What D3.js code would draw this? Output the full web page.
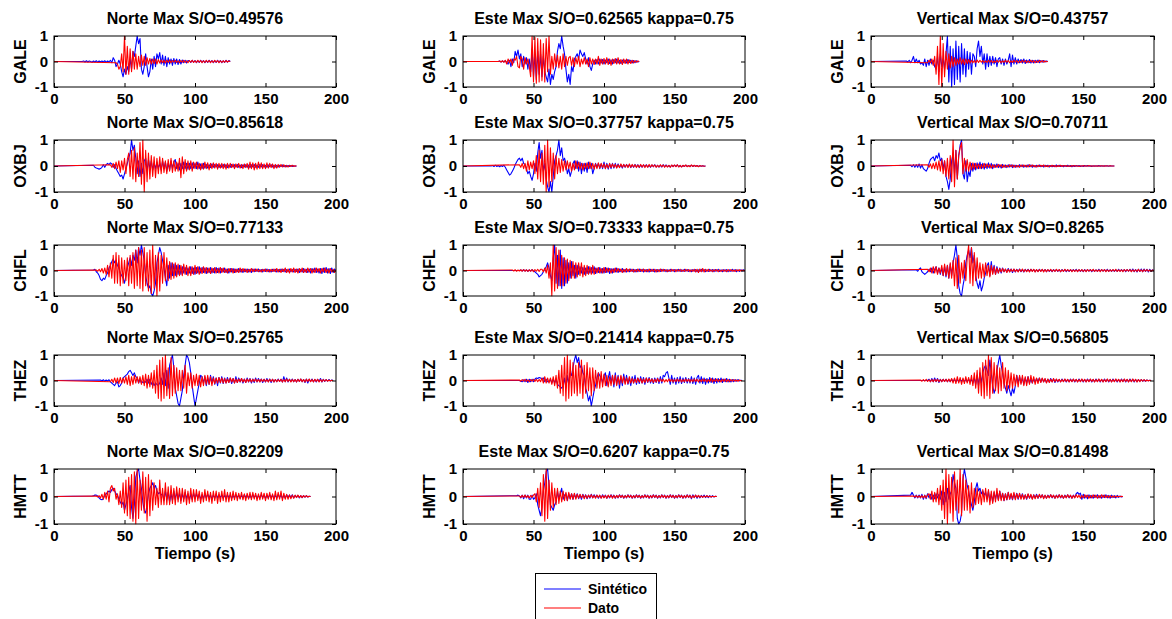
<!DOCTYPE html>
<html><head><meta charset="utf-8">
<script src="https://cdn.jsdelivr.net/npm/d3@7"></script>
<style>
body{margin:0;background:#fff}
svg{display:block}
text{font-family:"Liberation Sans",Arial,sans-serif;font-weight:bold;fill:#000}
</style></head><body>
<svg id="c" width="1172" height="619"></svg>
<script>
// ---------- labels ----------
const stations = ["GALE","OXBJ","CHFL","THEZ","HMTT"];
const components = ["Norte","Este","Vertical"];
const titles = [
 ["Norte Max S/O=0.49576","Este Max S/O=0.62565 kappa=0.75","Vertical Max S/O=0.43757"],
 ["Norte Max S/O=0.85618","Este Max S/O=0.37757 kappa=0.75","Vertical Max S/O=0.70711"],
 ["Norte Max S/O=0.77133","Este Max S/O=0.73333 kappa=0.75","Vertical Max S/O=0.8265"],
 ["Norte Max S/O=0.25765","Este Max S/O=0.21414 kappa=0.75","Vertical Max S/O=0.56805"],
 ["Norte Max S/O=0.82209","Este Max S/O=0.6207 kappa=0.75","Vertical Max S/O=0.81498"]
];
const xTicks = [0,50,100,150,200];
const yTicks = [-1,0,1];
const yTickLabels = ["-1","0","1"];
const xLabel = "Tiempo (s)";
const seriesNames = ["Sintético","Dato"];
const dt = 1; // s between samples

// onset time (s) of each series; row = station, col = component
const onsetSint = [[20,25,25],[28,20,28],[28,40,32],[33,40,40],[27,38,28]];
const onsetDato = [[44,25,40],[40,40,40],[30,35,40],[40,40,35],[30,40,30]];

// ---------- GALE ----------
const galeNorteSint = [0,.02,-.02,.03,-.02,.02,0,-.03,.02,-.02, .03,-.03,.02,-.02,.02,-.02,.03,-.03,.02,-.02, .05,-.05,.15,.05,-.2,-.1,.05,-.1,-.4,-.6, -.3,-.5,-.2,-.4,.1,-.3,.4,.2,.6,1, .7,.9,-.3,-.5,-.2,.3,-.2,-.6,-.4,.1, -.3,.2,-.2,.3,.1,.35,-.1,.25,-.15,.2, -.2,.15,-.1,.1,-.15,.12,-.1,.1,-.12,.08, -.1,.06,-.05,.05,-.06,.04,.03,-.04,.05,-.03, .04,-.05,.03,-.04,.05,-.03,.04,-.05,.03,-.04, .05,-.03,.04,-.05,.03,-.04,.05,-.03,.04,-.05, .03,-.04,.05,-.03,.04,0];
const galeNorteDato = [-.05,-.1,-.3,-.2,.3,-.4, 1,-.5,.6,-.5,.5,-.4,.4,-.3,.3,-.3, .2,-.2,.25,-.15,.2,-.15,.15,-.1,.12,-.1, .1,-.08,.1,-.1,.08,-.06,.06,-.05,.05,-.06, .05,-.04,.06,-.05,.04,-.03,.05,-.04,.03,-.05, .04,-.03,.05,-.04,.03,-.05,.04,-.03,.05,-.04, .03,-.04,.05,-.03,.04,-.05,.03,-.04,.05,-.03, .04,-.05,.03,-.04,.05,-.03,.04,-.05,.03,-.04, .03,-.03,.04,-.02,.02,0];
const galeEsteSint = [0,.02,-.02,.02,-.02,.03,-.03,-.1,.05,-.2, .1,-.05,.4,.2,.45,.1,.3,-.2,.2,-.1, .15,-.3,.1,-.4,.5,-.6,.3,-.7,.4,-.5, .3,-.6,.2,-.4,-.6,-.8,-.3,-.9,-.5,-.7, -.4,-.2,.4,.7,.5,1,.6,.3,-.3,-.8, -.5,-.9,-.2,-.4,.1,.2,.3,.1,.45,.3, .2,.35,.1,-.1,.15,-.2,-.35,-.1,.05,-.1, .08,-.1,.1,-.06,.08,-.1,.06,-.05,.1,-.08, .06,-.1,.08,-.05,.1,-.06,.05,-.08,.06,-.05, .05,-.06,.08,-.04,.05,-.06,.04,-.05,.03,-.02,0];
const galeEsteDato = [0,.02,-.02,.03,-.03,.05,-.1,.1,-.05,.1, -.15,.1,.05,.2,-.2,-.25,.2,.1,-.3,.15, -.1,.1,-.2,-.6,1,-.8,.95,-.85,.9,-.8, .85,-.75,.7,-.8,.9,-.4,1,-.5,.2,-.3, .3,-.2,.25,-.25,.2,-.3,.3,-.2,.2,-.15, .15,.2,-.15,.15,-.2,.15,-.1,.2,-.2,.1, -.1,.15,-.1,.1,-.2,.15,-.1,.1,-.12,.1, -.1,.2,-.15,.1,-.1,.12,-.1,.15,-.12,.1, -.15,.1,-.08,.12,-.1,.15,-.1,.08,-.12,.1, -.08,.1,-.1,.06,-.08,.05,-.06,.04,-.03,.02,0];
const galeVertSint = [.02,-.02,.05,-.05,.05,.2,-.05,.1,-.05,.05, -.1,-.05,-.15,.1,-.2,.05,-.15,.1,-.1,.05, -.2,-.3,.2,-.4,.3,-.2,.1,-.3,.3,1, -.8,.6,-1,.5,-.9,.8,-.7,.6,-.8,.7, -.5,.5,-.6,.4,-.3,.35,-.5,.3,.2,-.2, .5,.8,.2,.6,-.1,.3,-.3,.3,-.2,.2, -.15,.2,-.1,.15,-.2,.1,.15,-.1,.1,-.15, .1,-.1,.05,.3,-.2,.25,-.1,.15,-.1,.1, -.05,.08,-.06,.1,-.08,.06,-.05,.08,-.06,.05, -.06,.05,-.04,.06,-.05,.04,-.03,.04,-.02,.02,0];
const galeVertDato = [-.05,.05,-.05,.1,-.15,.2,-.5,.6,-.9,1, -1,.7,-.6,.4,-.3,.3,-.25,.2,-.2,.15, -.15,.1,-.1,.15,-.1,.1,-.12,.1,-.08,.08, -.06,.05,-.05,.04,-.05,.06,-.04,.05,-.03,.04, -.05,.03,-.04,.05,-.03,.04,-.05,.03,-.04,.05, -.03,.04,-.05,.03,-.04,.05,-.03,.04,-.05,.03, -.04,.05,-.03,.04,-.05,.03,-.04,.05,-.03,.04, -.05,.03,-.04,.05,-.03,.04,-.05,.03,-.04,.05, -.03,.04,-.03,.02,-.01,0];

// ---------- OXBJ ----------
const oxbjNorteSint = [.03,-.05,-.08,-.1,-.12,-.1,-.05,.05,-.05,.05, .1,.05,.12,.08,-.05,.05,-.1,-.2,-.3,-.4, -.35,-.5,-.3,-.1,.1,.3,.5,1,.6,.8, .3,-.3,.2,-.4,.1,-.3,.2,.3,-.2,.25, -.1,.2,-.15,.1,-.1,.15,-.1,.1,-.15,.2, -.1,.15,-.2,.1,-.15,.2,-.1,.15,.25,-.1, .1,-.15,.1,-.1,.15,-.1,.1,-.12,.1,-.1, .12,-.08,.1,-.1,.15,-.1,.08,-.1,.1,-.08, .06,-.08,.05,-.06,.08,-.05,.06,-.04,.05,-.06, .04,-.05,.06,-.04,.05,-.06,.04,-.05,.06,-.04, .05,-.04,.06,-.05,.04,-.06,.05,-.04,.05,-.05, .04,-.06,.05,-.04,.06,-.05,.04,-.05,.06,-.04, .05,-.04,.03,-.05,.04,-.03,.05,-.04,.03,-.04, .03,-.04,.03,-.02,.04,-.03,.02,-.03,.02,-.02, .02,-.02,.01,-.01,0];
const oxbjNorteDato = [.05,-.05,.1,-.1,.15,-.1,.2,-.25,.2,-.15, .3,-.3,.25,.5,-.4,.6,-.5,.7,-.6,.5, -.4,.9,-.7,1,-1,.6,-.6,.5,-.5,.4, -.4,.35,-.45,.3,-.3,.35,-.3,.3,-.25,.2, -.3,.25,-.2,.3,-.25,.2,-.2,.15,-.2,.3, -.45,.35,-.3,.25,-.2,.2,-.15,.2,-.2,.15, -.1,.15,-.12,.1,-.15,.1,-.12,.15,-.1,.12, -.15,.1,-.1,.12,-.08,.1,-.12,.1,-.08,.1, -.1,.08,-.12,.1,-.08,.1,-.06,.08,-.1,.08, -.06,.1,-.08,.06,-.1,.08,-.06,.1,-.12,.15, -.1,.12,-.15,.1,-.12,.15,-.1,.12,-.1,.08, -.1,.12,-.08,.1,-.06,.08,-.1,.06,-.08,.06, -.05,.06,-.04,.05,-.04,.03,-.04,.03,-.02,.03, -.02,.01,0];
const oxbjEsteSint = [0,.02,-.02,.03,-.02,.02,-.03,.02,-.02,.03, -.05,-.15,-.25,-.35,-.3,-.2,-.1,.05,.15,.25, .3,.2,.3,.1,.05,-.1,-.3,-.2,-.4,-.55, -.3,.1,-.2,.5,.9,.3,.6,-.2,.1,-.5, -.8,-1,-.6,-1,-.4,.2,.4,.6,1,.4, .7,.2,.3,.1,-.3,-.1,-.4,-.2,.1,.2, -.1,.2,-.2,.15,-.3,.1,-.2,.1,-.25,.15, -.1,.1,-.3,-.1,.1,-.05,.1,-.1,.08,-.1, .15,-.1,.1,-.12,.08,-.1,.1,-.08,.1,-.06, .08,-.06,.05,-.08,.06,-.05,.06,-.04,.05,-.06, .04,-.05,.06,-.04,.05,-.06,.04,-.05,.04,-.03, .05,-.04,.03,-.05,.04,-.03,.05,-.04,.03,-.04, .03,-.04,.05,-.03,.04,-.03,.02,-.04,.03,-.02, .03,-.02,.04,-.03,.02,-.03,.02,-.02,.03,-.02, .02,-.02,.03,-.02,.02,-.01,.02,-.02,.01,-.01, .01,-.01,0];
const oxbjEsteDato = [.05,-.05,.1,-.1,.1,-.2,.2,-.15,.15,-.1, .2,-.3,.4,-.5,.6,-.6,.5,-.7,.8,-1, 1,-.8,.7,-.6,.5,-.5,.4,-.3,.3,-.25, .25,-.2,.2,-.15,.2,-.1,.15,-.2,.1,-.15, .2,-.1,.15,-.12,.1,-.15,.1,-.1,.12,-.1, .15,-.1,.1,-.12,.08,-.1,.12,-.08,.1,-.06, .08,-.1,.06,-.08,.1,-.06,.08,-.05,.06,-.08, .05,-.06,.08,-.05,.06,-.04,.05,-.06,.08,-.05, .06,-.04,.05,-.06,.04,-.05,.06,-.04,.05,-.06, .04,-.05,.06,-.04,.05,-.03,.04,-.05,.03,-.04, .05,-.03,.04,-.05,.03,-.04,.03,-.05,.04,-.03, .04,-.03,.05,-.04,.03,-.04,.03,-.02,.04,-.03, .02,-.03,.04,-.02,.03,-.02,.02,-.03,.02,-.01, .01,-.01,0];
const oxbjVertSint = [.03,-.03,.05,-.05,.05,-.05,.08,-.08,.05,-.1, -.15,-.2,-.1,.1,.25,.3,.35,.2,.4,.3, .5,.2,.3,-.1,.2,-.4,-.6,-.9,-.5,.2, .5,-.3,.6,-.5,.4,.8,1,-.3,-.5,.2, -.6,-.2,-.4,.1,-.2,.1,-.15,.12,-.1,.15, -.1,.1,-.12,.08,-.1,.12,-.08,.1,-.1,.06, -.05,.08,-.06,.05,-.08,.06,-.05,.04,-.06,.05, -.04,.05,-.06,.04,-.05,.03,-.04,.05,-.03,.04, -.05,.03,-.04,.05,-.03,.04,-.05,.03,-.04,.03, -.03,.04,-.03,.02,-.04,.03,-.02,.03,-.04,.02, -.03,.02,-.03,.04,-.02,.03,-.02,.02,-.03,.02, -.02,.03,-.02,.02,-.03,.02,-.02,.02,-.01,.02, -.02,.01,-.02,.02,-.01,.02,-.01,.01,-.02,.01, -.01,.01,-.01,.02,-.01,.01,-.01,.01,0,.01, -.01,.01,0,0,0];
const oxbjVertDato = [.05,-.05,.08,-.1,.1,-.1,.15,-.15,.2,-.2, .25,-.3,.2,-.4,.3,-.5,.4,-.6,1,-.8, .6,-.5,.4,.7,.9,-.3,.3,-.2,.25,-.2, .15,-.15,.12,-.12,.1,-.1,.08,-.1,.06,-.08, .1,-.06,.08,-.05,.06,-.08,.05,-.06,.04,-.05, .06,-.04,.05,-.06,.04,-.05,.03,-.04,.05,-.03, .04,-.05,.03,-.04,.03,-.05,.04,-.03,.04,-.03, .03,-.04,.05,-.03,.04,-.03,.02,-.04,.03,-.02, .03,-.02,.04,-.03,.02,-.03,.02,-.02,.03,-.02, .02,-.03,.02,-.02,.03,-.02,.02,-.01,.02,-.02, .01,-.02,.02,-.01,.02,-.01,.01,-.02,.01,-.01, .02,-.01,.01,-.01,.02,-.01,.01,-.01,.01,-.01, .01,-.01,.01,0,.01,-.01,.01,0,0,.01, 0,0,0];

// ---------- CHFL ----------
const chflNorteSint = [.02,.05,-.05,-.1,-.2,-.35,-.4,-.3,-.35,-.2, -.1,.1,.2,.35,.45,.3,.4,.2,.1,-.1, -.2,-.3,-.5,-.2,.1,.3,.5,.2,.6,.4, .8,.3,.9,.6,1,.7,.4,-.2,-.5,-.7, -.6,-.9,-1,-.8,-.5,.3,.6,.9,.7,.4, .1,-.3,-.6,.2,-.3,.3,-.2,.25,-.2,.2, -.15,.2,-.15,.15,-.1,.12,-.15,.1,-.1,.15, -.12,.1,-.15,.12,-.1,.15,-.1,.12,-.08,.1, -.12,.1,-.08,.12,-.1,.08,-.1,.12,-.08,.1, -.1,.08,-.06,.1,-.08,.06,-.1,.08,-.06,.08, -.08,.06,-.05,.08,-.06,.05,-.08,.06,-.05,.06, -.06,.05,-.08,.06,-.05,.06,-.04,.06,-.05,.04, -.06,.05,-.04,.06,-.05,.04,-.06,.05,-.04,.05, -.06,.04,-.05,.06,-.04,.05,-.06,.04,-.05,.06, -.05,.04,-.06,.05,-.04,.06,-.08,.05,-.06,.08, -.06,.05,-.08,.06,-.1,.08,-.06,.1,-.08,.06, -.1,.08,-.12,.1,-.08,.12,-.1,.08,-.12,.1, -.08,.06,-.04];
const chflNorteDato = [.02,-.03,.05,-.05,.08,-.1,.1,-.15,.2,-.25, .3,-.3,.6,-.5,.7,-.5,.6,-.6,.5,-.5, .4,-.4,.5,-.6,.6,-.5,.7,-.7,.8,-.6, .9,-.7,.8,-.8,.9,-.6,.7,-.8,.8,-.9, 1,-.7,.6,-1,.7,-.8,.6,-.5,.7,-.4, .5,-.4,.35,-.35,.3,-.3,.3,-.25,.25,-.2, .2,-.2,.25,-.15,.2,-.2,.15,-.2,.15,-.15, .2,-.12,.15,-.15,.1,-.12,.15,-.1,.12,-.1, .1,-.12,.1,-.08,.12,-.1,.08,-.1,.12,-.08, .1,-.08,.06,-.1,.08,-.06,.08,-.1,.06,-.08, .06,-.08,.1,-.06,.08,-.05,.06,-.08,.05,-.06, .08,-.05,.06,-.04,.06,-.05,.04,-.06,.05,-.04, .06,-.05,.04,-.06,.05,-.04,.06,-.05,.08,-.06, .05,-.08,.06,-.05,.1,-.08,.06,-.1,.08,-.06, .1,-.08,.06,-.1,.08,-.06,.1,-.08,.06,-.08, .1,-.06,.08,-.1,.06,-.08,.1,-.06,.08,-.1, .08,-.06,.1,-.08,.06,-.1,.08,-.06,.05,-.08, .04];
const chflEsteSint = [0,.02,-.02,.03,-.02,.02,-.03,.02,-.02,.03, -.02,-.05,-.1,-.15,-.25,-.2,-.15,-.05,.05,.15, .3,.1,-.2,-.4,.5,1,-.5,.6,-.6,.8, -.7,.5,-.6,.4,-.5,.3,-.3,.35,-.2,.2, -.3,.2,-.15,.15,-.1,.12,-.15,.1,-.12,.15, -.1,.12,-.1,.15,-.12,.1,-.08,.12,-.1,.08, -.1,.12,-.08,.1,-.12,.08,-.1,.08,-.06,.1, -.08,.06,-.05,.08,-.06,.05,-.06,.04,-.05,.06, -.04,.05,-.06,.04,-.05,.06,-.04,.05,-.06,.04, -.05,.04,-.06,.05,-.04,.05,-.06,.04,-.05,.04, -.04,.05,-.03,.04,-.05,.03,-.04,.05,-.03,.04, -.05,.04,-.03,.05,-.04,.03,-.04,.05,-.03,.04, -.04,.03,-.05,.04,-.03,.04,-.05,.03,-.04,.05, -.03,.04,-.05,.03,-.04,.05,-.03,.04,-.05,.04, -.03,.05,-.04,.03,-.05,.04,-.03,.04,-.05,.03, -.04,.05,-.03,.04,-.05,.03,-.04,.03,-.02,.03, -.02];
const chflEsteDato = [.02,-.02,.03,-.03,.02,-.02,.03,-.03,.04,-.03, .03,-.04,.03,-.03,.04,-.05,.04,-.03,.05,-.04, .05,.05,-.05,.1,-.1,.2,-.3,.3,-1,1, -.8,.9,-.7,.8,-.6,.6,-.6,.5,-.5,.45, -.4,.4,-.3,.35,-.3,.3,-.25,.3,-.2,.3, -.25,.2,-.2,.2,-.15,.15,-.15,.2,-.15,.1, -.1,.12,-.1,.08,-.1,.12,-.08,.1,-.06,.08, -.1,.06,-.08,.1,-.06,.08,-.05,.06,-.08,.05, -.06,.08,-.05,.06,-.04,.05,-.06,.04,-.05,.06, -.04,.05,-.04,.06,-.05,.04,-.05,.06,-.04,.05, -.04,.05,-.06,.04,-.05,.06,-.04,.05,-.03,.04, -.05,.03,-.04,.05,-.03,.04,-.05,.04,-.03,.05, -.04,.03,-.04,.05,-.03,.04,-.05,.03,-.04,.05, -.06,.05,-.08,.06,-.05,.08,-.06,.05,-.04,.05, -.04,.03,-.05,.04,-.03,.04,-.05,.03,-.04,.03, -.04,.03,-.05,.04,-.03,.04,-.03,.02,-.04,.03, -.02,.03,-.02,.02,-.01,.01];
const chflVertSint = [.03,-.03,.05,.1,-.05,-.1,-.15,-.1,-.05,.05, -.05,.1,-.1,.05,.15,-.1,.1,-.15,.1,-.2, .15,-.25,.2,-.3,.25,-.2,.3,.6,1,.5, -.6,-.9,-1,-.6,-.3,.3,.6,.8,.5,.9, .3,.6,-.2,-.5,-.7,-.4,-.8,-.6,-.3,-.1, .2,.3,-.2,.35,-.1,.2,-.15,.15,-.1,.1, -.1,.1,-.05,.05,-.06,.08,-.05,.06,-.08,.05, -.06,.05,-.04,.06,-.05,.04,-.06,.05,-.04,.05, -.04,.05,-.03,.04,-.05,.03,-.04,.05,-.03,.04, -.03,.04,-.05,.03,-.04,.03,-.05,.04,-.03,.04, -.04,.03,-.05,.04,-.03,.04,-.05,.03,-.04,.03, -.03,.04,-.03,.05,-.04,.03,-.04,.03,-.05,.04, -.03,.04,-.03,.04,-.05,.03,-.04,.03,-.04,.05, -.03,.04,-.03,.04,-.03,.05,-.04,.03,-.04,.03, -.04,.03,-.04,.05,-.03,.04,-.03,.04,-.05,.04, -.03,.05,-.04,.06,-.05,.04,-.06,.05,-.04,.06, -.05,.06,-.04,.05,-.06,.05,-.04,.03,-.02];
const chflVertDato = [.05,-.05,.1,-.1,.15,-.1,.15,-.15,.1,-.1, .2,-.2,.25,-.2,.2,-.3,.3,-.3,.4,-.6, .5,-.7,.6,-.5,.3,-.3,.4,-.4,.5,1, -.5,.9,-.6,.7,-.4,.5,-.3,.3,-.3,.25, -.25,.3,-.2,.2,-.25,.2,-.15,.15,-.15,.1, -.1,.08,-.06,.08,-.05,.06,-.08,.05,-.06,.05, -.04,.06,-.05,.04,-.06,.05,-.04,.06,-.05,.04, -.05,.04,-.06,.05,-.04,.05,-.06,.04,-.05,.04, -.04,.05,-.06,.04,-.05,.04,-.03,.05,-.04,.03, -.04,.05,-.03,.04,-.05,.03,-.04,.05,-.03,.04, -.03,.04,-.05,.03,-.04,.03,-.05,.04,-.03,.04, -.04,.03,-.05,.04,-.03,.04,-.03,.05,-.04,.03, -.04,.03,-.05,.04,-.03,.04,-.05,.03,-.04,.03, -.03,.04,-.03,.05,-.04,.03,-.04,.03,-.05,.04, -.03,.04,-.03,.04,-.05,.03,-.04,.03,-.04,.05, -.04,.03,-.05,.04,-.03,.04,-.03,.02,-.03,.02, -.01];

// ---------- THEZ ----------
const thezNorteSint = [.02,-.02,.03,-.03,.02,-.02,.03,-.05,-.1,-.15, -.2,-.1,-.05,-.25,-.2,-.1,.1,.15,.2,.25, .35,.4,.3,.2,.3,.15,.1,-.1,.05,-.1, -.05,-.1,-.05,.05,-.1,.05,-.15,-.05,-.2,-.1, -.15,-.2,-.1,.1,-.15,.3,-.2,.4,-.3,.6, .8,1,.5,-.3,-.6,-.9,-1,-.7,-.4,.2, .6,1,.9,.7,.3,-.2,-.6,-1,-.7,-.4, -.1,.2,.15,-.1,.15,-.2,.1,-.15,.2,-.1, .15,-.15,.1,-.2,.12,-.1,.15,-.12,.1,-.1, .12,-.08,.1,-.12,.08,-.1,.15,-.08,.1,-.06, .08,-.1,.06,-.08,.1,-.06,.08,-.1,.06,-.08, .1,-.06,.08,-.05,.06,-.08,.05,-.06,.08,-.05, .06,-.08,.05,-.06,.04,-.05,.06,-.04,.05,-.06, .15,-.05,.1,-.06,.05,-.04,.06,-.05,.04,-.06, .05,-.04,.06,-.05,.04,-.08,.06,-.1,.05,-.04, .06,-.05,.04,-.06,.05,-.04,.08,-.06,.05,-.04, .04,-.03,.04,-.02,.02,0];
const thezNorteDato = [-.05,.05,-.08,.1,-.1,.1,-.12,.12,-.1,.1, -.1,.15,-.15,.2,-.2,.15,-.15,.2,-.1,.15, -.1,.15,-.15,.2,-.2,.25,-.3,.2,-.25,.3, -.3,.4,-.5,.6,-.7,.8,-.8,.9,-.7,1, -.6,.5,-.7,.9,-.6,.6,-.5,.5,-.4,.4, -.4,.4,-.3,.6,-.5,.3,-.2,.3,-.3,.2, -.2,.25,-.2,.2,-.25,.15,-.2,.2,-.15,.2, -.15,.15,-.2,.1,-.12,.1,-.1,.12,-.08,.1, -.1,.08,-.1,.06,-.08,.1,-.06,.08,-.1,.06, -.08,.06,-.05,.08,-.06,.05,-.08,.06,-.05,.06, -.06,.05,-.04,.06,-.05,.04,-.06,.05,-.04,.05, -.05,.04,-.06,.05,-.04,.05,-.06,.04,-.05,.04, -.04,.05,-.06,.04,-.05,.06,-.04,.05,-.06,.04, -.05,.04,-.06,.05,-.04,.06,-.05,.04,-.06,.05, -.04,.06,-.05,.04,-.06,.05,-.04,.05,-.06,.04, -.05,.04,-.03,.04,-.03,.02,-.02,.01,0];
const thezEsteSint = [0,-.03,-.05,.03,-.05,.05,-.08,.05,-.05,.05, -.05,.05,.1,.08,.12,.1,.05,.1,-.05,.05, -.05,-.05,.05,-.1,.05,-.1,.05,-.15,-.2,-.25, -.3,-.2,.1,-.3,.2,-.15,.3,.2,.5,.8, 1,.7,.9,.5,.6,.3,.2,-.3,-.5,-.8, -.6,-1,-.7,-.4,-.2,.1,.3,.2,.1,-.1, .2,.3,-.2,.1,.35,-.1,.2,-.25,.3,-.15, .2,-.3,.15,-.2,.25,-.1,.2,-.15,.1,-.2, .15,-.1,.2,-.15,.1,-.12,.15,-.1,.12,-.15, .1,-.08,.12,-.1,.08,-.12,.1,-.08,.1,-.12, .15,-.1,.2,.15,.3,.35,.1,-.15,.2,-.1, .1,-.15,.12,-.1,.15,-.12,.1,-.08,.12,-.1, .08,-.1,.15,-.12,.1,-.15,.12,.2,-.1,.15, -.12,.1,-.15,.08,-.1,.12,-.08,.1,-.12,.08, -.1,.08,-.06,.1,-.08,.06,-.05,.08,-.06,.05, -.06,.04,-.05,.04,-.03,.04,-.02,.01,0];
const thezEsteDato = [.02,-.03,.04,-.03,.05,-.04,.03,-.05,.04,-.03, .05,-.04,.05,-.05,.04,-.05,.1,-.1,.15,-.1, .1,-.1,.1,-.15,.15,-.2,.2,-.3,.4,-.5, .6,-.6,.9,-.8,1,-.7,.8,-.6,.7,-.5, .6,-.6,.7,-.5,.8,-.7,.6,-.5,.7,-.4, .5,-.6,.5,-.4,.4,-.3,.3,-.3,.35,-.25, .25,-.2,.2,-.25,.15,-.2,.2,-.15,.2,-.2, .15,-.15,.2,-.1,.15,-.15,.1,-.12,.15,-.1, .08,-.1,.06,-.08,.1,-.06,.08,-.1,.06,-.08, .1,-.06,.08,-.05,.06,-.08,.05,-.06,.08,-.05, .06,-.04,.05,-.06,.04,-.05,.06,-.04,.05,-.06, .04,-.05,.06,-.04,.05,-.06,.04,-.05,.06,-.04, .05,-.06,.04,-.05,.06,-.04,.05,-.06,.04,-.05, .06,-.04,.05,-.06,.04,-.05,.08,-.06,.05,-.04, .06,-.05,.04,-.06,.05,-.04,.06,-.05,.04,-.05, .04,-.03,.04,-.03,.02,-.03,.02,-.01,0];
const thezVertSint = [0,.05,-.05,.08,-.05,.1,-.05,.08,-.08,.05, -.05,.05,-.04,.05,-.05,.04,-.05,.05,-.04,.05, -.05,.04,-.05,.05,-.04,.05,-.05,.04,-.05,.05, -.05,.05,-.1,.1,-.15,.2,-.2,.3,-.1,.3, .5,.6,.4,.2,.8,.3,-.2,-.5,-.3,.4, .7,1,.6,.3,-.1,-.3,-.5,-.2,-.4,-.6, -.3,-.5,-.2,.2,-.1,.15,-.1,.1,-.15,.1, -.1,.15,-.1,.05,-.1,.05,-.06,.08,-.05,.1, -.06,.08,-.05,.06,-.08,.05,-.06,.08,-.05,.06, -.08,.05,-.06,.04,-.05,.06,-.04,.05,-.06,.04, -.05,.06,-.04,.05,-.06,.04,-.05,.06,-.04,.05, -.06,.04,-.05,.06,-.04,.05,-.06,.04,-.05,.06, -.04,.05,-.06,.04,-.05,.06,-.04,.05,-.06,.04, -.05,.06,-.04,.05,-.06,.04,-.05,.06,-.04,.05, -.06,.04,-.05,.06,-.04,.05,-.06,.04,-.05,.04, -.03,.04,-.03,.02,-.03,.02,-.01,.01,0];
const thezVertDato = [.02,-.03,.04,-.03,.05,-.04,.03,-.05,.04,-.05, .05,-.04,.05,-.05,.04,-.05,.05,-.04,.05,-.05, .06,-.05,.08,-.1,.1,-.12,.15,-.1,.12,-.15, .1,-.12,.15,-.1,.12,-.15,.2,-.2,.3,-.3, .4,-.5,.5,-.6,.7,-.7,.8,-.6,1,-.7, .9,-.5,.7,-.4,.6,-.5,.5,-.4,.7,-.3, .5,-.4,.4,-.3,.3,-.3,.25,-.2,.2,-.25, .2,-.15,.2,-.2,.15,-.2,.15,-.15,.2,-.1, .15,-.15,.1,-.12,.1,-.08,.1,-.06,.08,-.1, .06,-.08,.05,-.06,.08,-.05,.06,-.04,.05,-.06, .04,-.05,.06,-.04,.05,-.06,.04,-.05,.06,-.04, .05,-.06,.04,-.05,.06,-.04,.05,-.06,.04,-.05, .06,-.04,.05,-.06,.04,-.05,.06,-.04,.05,-.06, .04,-.05,.06,-.04,.05,-.06,.04,-.05,.06,-.04, .05,-.06,.04,-.05,.06,-.04,.05,-.06,.04,-.05, .06,-.04,.05,-.06,.04,-.05,.04,-.03,.04,-.03, .02,-.02,.01,0];

// ---------- HMTT ----------
const hmttNorteSint = [.02,.03,.05,.05,.02,-.05,-.1,-.12,-.08,.05, .1,.15,.2,.15,.25,.3,.2,.1,.05,-.1, -.2,-.3,-.2,-.5,-.3,-.1,.2,.4,-.4,-.8, -.3,.7,.9,1,.6,.3,-.2,-.5,-.6,-.3, .1,.3,.4,.5,.3,.4,.2,.1,.15,.05, .1,-.15,.2,-.1,.15,-.2,.1,-.15,.2,-.1, .15,-.1,.12,-.15,.1,-.1,.15,-.08,.1,-.12, .08,-.1,.12,-.08,.1,-.06,.08,-.1,.06,-.08, .1,-.06,.08,-.05,.06,-.08,.05,-.06,.08,-.05, .06,-.04,.05,-.06,.04,-.05,.06,-.04,.05,-.06, .04,-.05,.06,-.04,.05,-.06,.04,-.05,.06,-.04, .05,-.06,.04,-.05,.06,-.04,.05,-.06,.04,-.05, .06,-.04,.05,-.06,.04,-.05,.06,-.04,.05,-.06, .04,-.05,.06,-.04,.05,-.06,.04,-.05,.06,-.04, .05,-.04,.06,-.05,.04,-.03,.04,-.05,.03,-.04, .03,-.02,.03,-.02,.01,0];
const hmttNorteDato = [.02,-.02,.03,-.05,.08,-.1,.15,-.1,.2,-.2, .3,.4,.2,.3,-.1,.1,-.3,.2,-.4,.5, -.6,.6,-.7,.7,-.8,.8,-.9,.9,-1,1, -.8,.6,-.5,.9,-.6,.7,-.9,.8,-.7,.6, -.5,.5,-.3,.3,-.4,.6,-.3,.3,-.3,.5, -.3,.35,-.3,.4,-.25,.3,-.3,.35,-.2,.3, -.25,.3,-.2,.25,-.3,.2,-.25,.3,-.2,.25, -.2,.25,-.15,.2,-.25,.15,-.2,.25,-.15,.2, -.2,.15,-.25,.2,-.15,.2,-.25,.15,-.2,.2, -.15,.25,-.2,.15,-.2,.15,-.15,.2,-.12,.15, -.15,.12,-.1,.15,-.12,.1,-.15,.12,-.1,.15, -.12,.15,-.1,.12,-.15,.1,-.12,.15,-.1,.12, -.15,.12,-.1,.15,-.12,.1,-.15,.2,-.12,.15, -.1,.2,-.15,.12,-.1,.08,-.1,.06,-.08,.05, -.06,.05,-.04,.05,-.04,.03,-.04,.03,-.02,.03, -.02,.01,0];
const hmttEsteSint = [.03,.05,.02,-.05,.05,-.08,.05,-.05,.05,-.1, -.1,.05,-.1,-.05,.1,-.3,-.5,-.7,-.4,.2, .5,.9,1,.4,-.3,-.4,-.5,-.3,-.2,.2, -.1,.1,.3,-.1,.05,.1,-.15,.1,-.08,.1, -.1,.08,-.06,.1,-.08,.06,-.1,.08,-.05,.06, -.08,.05,-.06,.08,-.05,.06,-.04,.05,-.06,.04, -.05,.06,-.04,.05,-.06,.04,-.05,.06,-.04,.05, -.06,.04,-.05,.06,-.04,.05,-.06,.04,-.05,.06, -.04,.05,-.06,.04,-.05,.06,-.04,.05,-.06,.04, -.05,.06,-.04,.05,-.06,.04,-.05,.06,-.04,.05, -.06,.04,-.05,.06,-.04,.05,-.06,.04,-.05,.06, -.04,.05,-.06,.04,-.05,.06,-.04,.05,-.06,.04, -.05,.06,-.04,.05,-.08,.06,-.04,.05,-.06,.04, -.05,.04,-.03,.05,-.04,.03,-.04,.03,-.02,.03, -.02,.01,0];
const hmttEsteDato = [.02,-.03,.04,-.03,.05,-.04,.03,-.05,.04,-.03, .05,.1,-.2,.3,-.4,.5,-.7,.8,-.9,1, -.8,.6,-.5,.5,-.4,.3,-.3,.3,-.25,.2, -.2,.2,-.15,.15,-.15,.15,-.1,.1,-.1,.12, -.1,.08,-.06,.08,-.05,.06,-.08,.05,-.06,.05, -.04,.06,-.05,.04,-.06,.05,-.04,.05,-.06,.04, -.05,.04,-.06,.05,-.04,.05,-.06,.04,-.05,.04, -.04,.05,-.03,.04,-.05,.03,-.04,.05,-.03,.04, -.05,.03,-.04,.05,-.03,.04,-.05,.03,-.04,.05, -.03,.04,-.05,.03,-.04,.05,-.03,.04,-.05,.03, -.04,.05,-.03,.04,-.05,.03,-.04,.05,-.03,.04, -.05,.03,-.04,.05,-.03,.04,-.05,.03,-.04,.05, -.03,.04,-.05,.03,-.04,.05,-.03,.04,-.03,.02, -.03,.02,-.02,.03,-.02,.01,-.02,.01,-.01,.01, 0];
const hmttVertSint = [.05,.15,.05,-.05,.05,-.05,.05,-.05,.08,-.1, .05,-.08,.1,-.05,.08,-.1,.05,-.08,.1,-.05, .08,-.1,.2,-.3,.15,-.2,.3,-.1,.1,.2, .8,.5,.3,-.8,-1,-.9,-.6,.6,1,.7, .4,.2,-.1,-.3,-.5,-.2,.3,.5,.2,.3, .1,.2,.05,.15,-.1,.2,-.15,.1,-.2,.15, -.1,.15,-.12,.2,-.1,.12,-.15,.1,-.12,.15, -.1,.08,-.12,.1,-.08,.12,-.1,.08,-.06,.1, -.08,.06,-.1,.08,-.06,.05,-.08,.06,-.05,.08, -.06,.05,-.04,.06,-.05,.04,-.06,.05,-.04,.06, -.05,.04,-.06,.05,-.04,.06,-.05,.04,-.06,.05, -.04,.06,-.05,.04,-.06,.05,-.04,.1,.15,.08, .12,-.1,.08,-.06,.05,-.08,.06,-.05,.04,-.06, .05,-.04,.06,-.05,.04,-.06,.05,-.04,.06,-.05, .04,-.06,.05,-.04,.03,-.05,.04,-.03,.02,-.02, 0];
const hmttVertDato = [.02,-.02,.03,-.03,.02,-.04,.03,-.05,.04,-.05, .06,.1,-.1,.2,-.2,.15,-.2,.3,-.3,.4, -.5,.6,-.8,1,-1,.8,-.6,.7,-.9,.9, -.5,.6,-.6,1,-.7,.8,-.5,.6,-.5,.4, -.6,.5,-.4,.3,-.3,.3,-.25,.2,-.3,.25, -.2,.3,-.2,.25,-.3,.2,-.25,.2,-.2,.3, -.15,.2,-.15,.12,-.15,.1,-.12,.15,-.1,.12, -.1,.15,-.12,.1,-.08,.12,-.1,.08,-.1,.06, -.08,.1,-.06,.08,-.1,.06,-.08,.05,-.06,.08, -.05,.06,-.08,.05,-.06,.04,-.05,.06,-.04,.05, -.06,.04,-.05,.06,-.04,.05,-.06,.04,-.05,.06, -.04,.05,-.06,.04,-.05,.06,-.04,.05,-.06,.04, -.05,.06,-.04,.05,-.06,.04,-.05,.06,-.04,.05, -.06,.04,-.05,.06,-.04,.05,-.04,.03,-.04,.03, -.03,.02,-.03,.02,-.02,.01,-.01,.01,0];

const sintetico = [
  [galeNorteSint, galeEsteSint, galeVertSint],
  [oxbjNorteSint, oxbjEsteSint, oxbjVertSint],
  [chflNorteSint, chflEsteSint, chflVertSint],
  [thezNorteSint, thezEsteSint, thezVertSint],
  [hmttNorteSint, hmttEsteSint, hmttVertSint]
];
const dato = [
  [galeNorteDato, galeEsteDato, galeVertDato],
  [oxbjNorteDato, oxbjEsteDato, oxbjVertDato],
  [chflNorteDato, chflEsteDato, chflVertDato],
  [thezNorteDato, thezEsteDato, thezVertDato],
  [hmttNorteDato, hmttEsteDato, hmttVertDato]
];

// ---------- layout ----------
const colX = [54, 463, 871], colW = [282, 282, 283];
const rowY = [36, 140, 245, 355, 469], rowH = [51, 52, 51, 51, 55];
const BLUE = "#0000ff", RED = "#ff0000";
const svg = d3.select("#c");

function toPoints(vals, t0) {
  return [[0, 0]].concat(vals.map((v, i) => [t0 + i * dt, v]));
}
const yFmt = d => yTickLabels[yTicks.indexOf(d)];

stations.forEach((st, r) => {
  components.forEach((comp, c) => {
    const x0 = colX[c], w = colW[c], y0 = rowY[r], h = rowH[r];
    const x = d3.scaleLinear().domain([0, 200]).range([x0, x0 + w]);
    const y = d3.scaleLinear().domain([-1, 1]).range([y0 + h, y0]);
    const g = svg.append("g");
    const clipId = `clip${r}${c}`;
    g.append("clipPath").attr("id", clipId).append("rect")
      .attr("x", x0).attr("y", y0 - 0.5).attr("width", w).attr("height", h + 1);

    const line = d3.line().x(d => x(d[0])).y(d => y(d[1]));
    const pl = g.append("g").attr("clip-path", `url(#${clipId})`);
    pl.append("path").attr("d", line(toPoints(sintetico[r][c], onsetSint[r][c])))
      .attr("fill", "none").attr("stroke", BLUE).attr("stroke-width", 1.1).attr("stroke-linejoin", "round");
    pl.append("path").attr("d", line(toPoints(dato[r][c], onsetDato[r][c])))
      .attr("fill", "none").attr("stroke", RED).attr("stroke-width", 1.1).attr("stroke-linejoin", "round");

    // axes (MATLAB style: inward ticks on all sides)
    const styleAxis = sel => {
      sel.select(".domain").remove();
      sel.attr("font-family", null).attr("font-size", null);
      sel.selectAll(".tick line").attr("stroke", "#000");
      sel.selectAll("text").attr("font-size", 15).attr("fill", "#000");
    };
    g.append("g").attr("transform", `translate(0,${y0 + h})`)
      .call(d3.axisBottom(x).tickValues(xTicks).tickSizeInner(-4).tickSizeOuter(0).tickPadding(6).tickFormat(d => String(d)))
      .call(styleAxis);
    g.append("g").attr("transform", `translate(0,${y0})`)
      .call(d3.axisTop(x).tickValues(xTicks).tickSizeInner(-4).tickSizeOuter(0).tickFormat(""))
      .call(styleAxis);
    g.append("g").attr("transform", `translate(${x0},0)`)
      .call(d3.axisLeft(y).tickValues(yTicks).tickSizeInner(-4).tickSizeOuter(0).tickPadding(6).tickFormat(yFmt))
      .call(styleAxis);
    g.append("g").attr("transform", `translate(${x0 + w},0)`)
      .call(d3.axisRight(y).tickValues(yTicks).tickSizeInner(-4).tickSizeOuter(0).tickFormat(""))
      .call(styleAxis);

    g.append("rect").attr("x", x0).attr("y", y0).attr("width", w).attr("height", h)
      .attr("fill", "none").attr("stroke", "#000").attr("stroke-width", 1);

    g.append("text").attr("x", x0 + w / 2).attr("y", y0 - 12)
      .attr("text-anchor", "middle").attr("font-size", 16).text(titles[r][c]);

    g.append("text").attr("transform", `translate(${x0 - 28},${y0 + h / 2}) rotate(-90)`)
      .attr("text-anchor", "middle").attr("font-size", 16).text(st);

    if (r === stations.length - 1) {
      g.append("text").attr("x", x0 + w / 2).attr("y", y0 + h + 35)
        .attr("text-anchor", "middle").attr("font-size", 16).text(xLabel);
    }
  });
});

// legend
const lg = svg.append("g");
lg.append("rect").attr("x", 535.5).attr("y", 573.5).attr("width", 121).attr("height", 55)
  .attr("fill", "#fff").attr("stroke", "#000");
[BLUE, RED].forEach((col, i) => {
  const ly = 589 + i * 19;
  lg.append("line").attr("x1", 544).attr("x2", 581).attr("y1", ly).attr("y2", ly)
    .attr("stroke", col).attr("stroke-width", 1.2);
  lg.append("text").attr("x", 588).attr("y", ly + 5).attr("font-size", 14).text(seriesNames[i]);
});
</script>
</body></html>
